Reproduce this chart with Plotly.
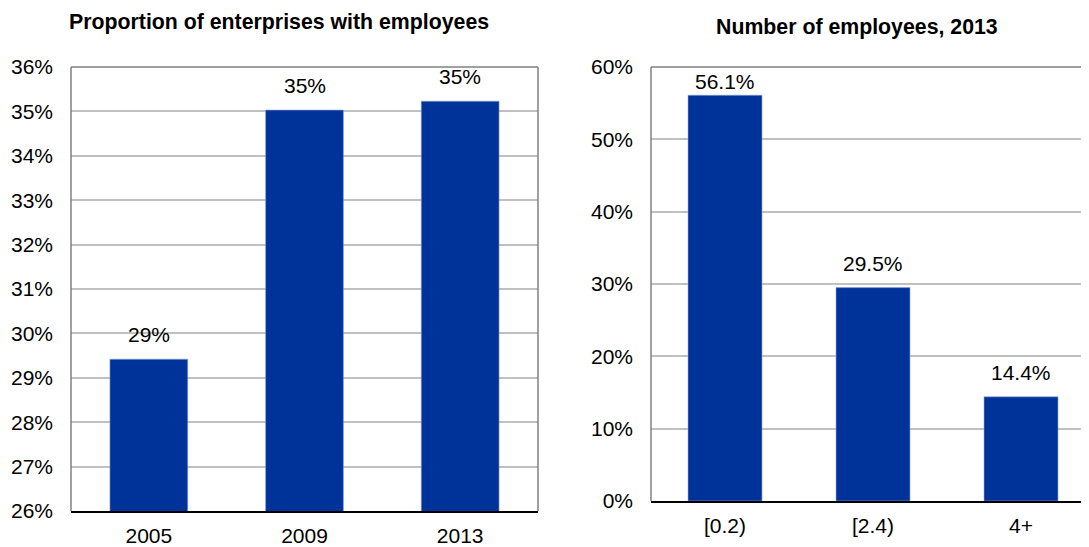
import plotly.graph_objects as go

# Data
years = ["2005", "2009", "2013"]
share_with_employees = [29.42, 35.03, 35.23]
share_labels = ["29%", "35%", "35%"]

size_classes = ["[0.2)", "[2.4)", "4+"]
size_shares = [56.1, 29.5, 14.4]
size_labels = ["56.1%", "29.5%", "14.4%"]

title_left = "Proportion of enterprises with employees"
title_right = "Number of employees, 2013"

BAR = "#003399"
GRID = "#c0c0c0"
FRAME = "#808080"
FONT = "Liberation Sans, Arial, sans-serif"

# page body has an 8px default margin: size the figure so it fits the window
OFF = 8
WIN_W, WIN_H = 1089, 547
W, H = WIN_W - OFF, WIN_H - OFF
# layout in window pixels
L1, R1, T1, B1 = 71, 538, 67, 511
L2, T2, B2 = 651, 67, 501
CAT2 = 148  # px per category on right chart (chart is cut at the window edge)

def dx(a, b):
    return [(a - OFF) / W, min(1.0, (b - OFF) / W)]

def dy(t, b):
    return [1 - (b - OFF) / H, 1 - (t - OFF) / H]

tickfont = dict(family=FONT, size=21, color="#000000")
labfont = dict(family=FONT, size=21, color="#000000")

fig = go.Figure()
fig.add_trace(go.Bar(x=years, y=share_with_employees,
                     marker=dict(color=BAR, line=dict(color="#8fa5dc", width=0.6)),
                     width=0.5, xaxis="x", yaxis="y", showlegend=False, hoverinfo="skip"))
fig.add_trace(go.Bar(x=size_classes, y=size_shares,
                     marker=dict(color=BAR, line=dict(color="#8fa5dc", width=0.6)),
                     width=0.5, xaxis="x2", yaxis="y2", showlegend=False, hoverinfo="skip"))

fig.update_layout(
    width=W, height=H,
    margin=dict(l=0, r=0, t=0, b=0, pad=0),
    paper_bgcolor="white", plot_bgcolor="white",
    font=dict(family=FONT, color="#000000"),
    xaxis=dict(type="category", domain=dx(L1, R1), anchor="y", showline=True, linecolor="#000000",
               linewidth=2, showgrid=False, ticks="", tickfont=tickfont, ticklabelstandoff=5,
               range=[-0.5, 2.5], automargin=False, fixedrange=True),
    yaxis=dict(domain=dy(T1, B1), anchor="x", range=[26, 36], dtick=1, ticksuffix="%",
               showgrid=True, gridcolor=GRID, gridwidth=1.5, showline=False,
               ticks="", tickfont=tickfont, ticklabelstandoff=17, zeroline=False,
               automargin=False, fixedrange=True),
    xaxis2=dict(type="category", domain=dx(L2, WIN_W), anchor="y2", showline=True, linecolor="#000000",
                linewidth=2, showgrid=False, ticks="", tickfont=tickfont, ticklabelstandoff=5,
                range=[-0.5, -0.5 + (WIN_W - L2) / CAT2], automargin=False, fixedrange=True),
    yaxis2=dict(domain=dy(T2, B2), anchor="x2", range=[0, 60], dtick=10, ticksuffix="%",
                showgrid=True, gridcolor=GRID, gridwidth=1.5, showline=False,
                ticks="", tickfont=tickfont, ticklabelstandoff=17, zeroline=False,
                automargin=False, fixedrange=True),
)

# frame lines (grey top / left / right), bottom is the black axis line
frame = dict(color=FRAME, width=1.5)
shapes = [
    dict(type="line", xref="x domain", yref="y domain", x0=0, x1=1, y0=1, y1=1, line=frame),
    dict(type="line", xref="x domain", yref="y domain", x0=0, x1=0, y0=0, y1=1, line=frame),
    dict(type="line", xref="x domain", yref="y domain", x0=1, x1=1, y0=0, y1=1, line=frame),
    dict(type="line", xref="x2 domain", yref="y2 domain", x0=0, x1=1, y0=1, y1=1, line=frame),
    dict(type="line", xref="x2 domain", yref="y2 domain", x0=0, x1=0, y0=0, y1=1, line=frame),
]
fig.update_layout(shapes=shapes)

anns = []
for cats, vals, labs, xa, ya, lo, hi, ptop, pbot in [
    (years, share_with_employees, share_labels, "x", "y", 26, 36, T1, B1),
    (size_classes, size_shares, size_labels, "x2", "y2", 0, 60, T2, B2),
]:
    for i, (c, v, lab) in enumerate(zip(cats, vals, labs)):
        room = (hi - v) / (hi - lo) * (pbot - ptop)  # px between bar top and plot top
        shift = 11 if room > 30 else 0
        anns.append(dict(x=i, y=v, xref=xa, yref=ya, text=lab, showarrow=False,
                         xanchor="center", yanchor="bottom", yshift=shift, font=labfont))

anns.append(dict(x=(278.5 - OFF) / W, y=1 - (22 - OFF) / H, xref="paper", yref="paper",
                 text="<b>" + title_left + "</b>", showarrow=False, xanchor="center", yanchor="middle",
                 font=dict(family=FONT, size=21.3, color="#000")))
anns.append(dict(x=(857 - OFF) / W, y=1 - (27 - OFF) / H, xref="paper", yref="paper",
                 text="<b>" + title_right + "</b>", showarrow=False, xanchor="center", yanchor="middle",
                 font=dict(family=FONT, size=21.3, color="#000")))
fig.update_layout(annotations=anns)

fig.write_html("out.html", config=dict(displayModeBar=False))
